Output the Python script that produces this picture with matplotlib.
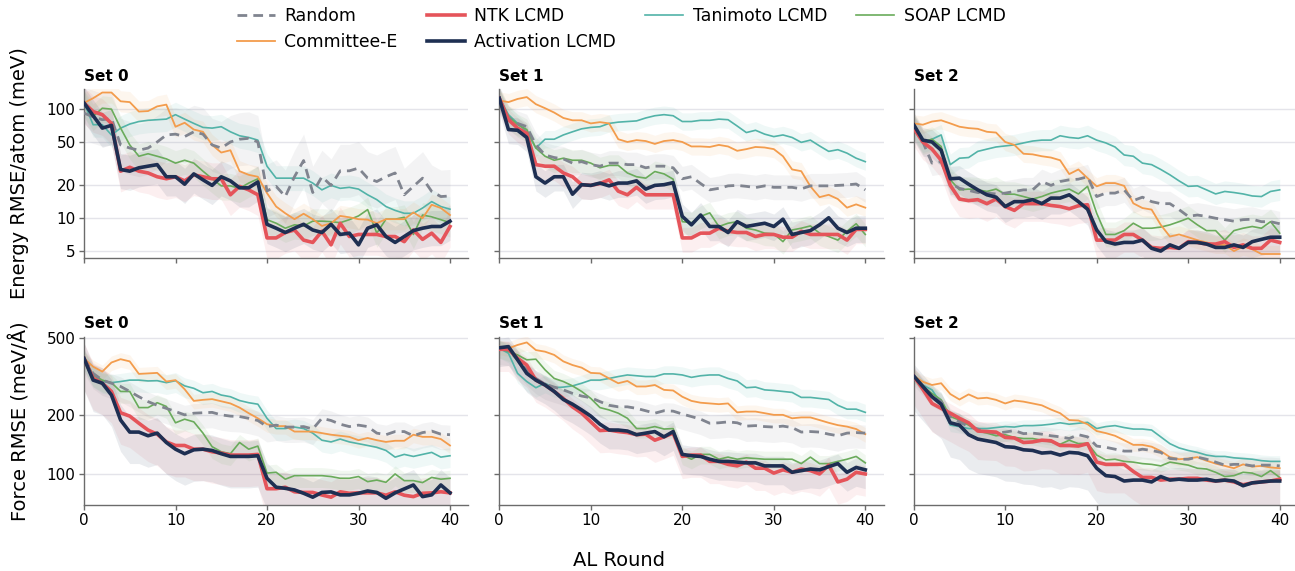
import numpy as np
import matplotlib
matplotlib.use("Agg")
import matplotlib.pyplot as plt
from matplotlib.lines import Line2D

rounds = list(range(41))
methods = ["Random", "Committee-E", "NTK LCMD", "Activation LCMD", "Tanimoto LCMD", "SOAP LCMD"]
set_titles = ["Set 0", "Set 1", "Set 2"]

# ---------------- Energy RMSE/atom (meV) ----------------
E0_random = [92, 85, 80, 82, 47, 44, 42, 44, 50, 58, 59, 56, 62, 59, 47, 44, 50, 53, 54, 50, 17.8, 19.6, 15.8, 24, 33.8, 17.2, 24, 20, 27.2, 27.2, 28.8, 23.3, 21.7, 24, 26, 16.4, 19.6, 23.3, 17.6, 15.8, 16]
E0_committee = [114, 126, 142, 142, 118, 116, 95, 96, 106, 110, 69, 75, 65, 62, 47, 40, 42, 27, 25, 24, 17, 12.8, 11.1, 9.8, 11, 9.8, 8.5, 9, 10.5, 10.2, 9.8, 9.7, 9, 9.8, 9.8, 9.8, 11.3, 10, 13.3, 12.4, 10.7]
E0_ntk = [114, 95, 89, 74, 27, 29.3, 27, 26, 24, 23, 24, 22, 25, 24, 23, 23, 16.4, 19.6, 18.2, 16.4, 6.6, 6.6, 7.4, 7.8, 6.3, 6.0, 7.6, 5.7, 9, 6.8, 7.1, 7.1, 7.1, 6.8, 6.8, 6.1, 7.8, 6.4, 7.3, 6.0, 8.4]
E0_activation = [114, 87, 67, 71, 28, 27, 29, 30, 31, 24, 24, 20.5, 25.5, 22.5, 20, 24, 22, 19, 19, 21.5, 8.8, 8.1, 7.4, 8.1, 8.8, 7.8, 7.4, 8.8, 7.1, 7.3, 5.7, 8.1, 8.7, 6.8, 6.0, 6.8, 7.7, 8.1, 8.4, 8.4, 9.4]
E0_tanimoto = [114, 72, 72, 58, 67, 73, 77, 79, 80, 81, 89, 81, 74, 68, 67, 69, 62, 57, 55, 52, 30, 23.3, 23.3, 23.3, 23.3, 21, 18.2, 20, 18.8, 19.2, 18.5, 16.4, 14.8, 12.8, 11.8, 11.1, 11.1, 12.4, 14.2, 12.8, 12.1]
E0_soap = [114, 86, 102, 100, 67, 47, 37, 39, 37, 35, 32, 34, 32, 27, 23, 19.8, 19.8, 18.8, 21, 23, 9.7, 9, 8.1, 8.7, 8.5, 9.4, 9.4, 9.3, 9.1, 9.7, 10.5, 12, 7.3, 9.8, 9.8, 10.2, 7.1, 10.7, 10.3, 9.7, 9.1]

E1_random = [126, 83, 74, 69, 47, 38, 36, 35, 32, 33, 31, 30, 32, 32, 31, 31, 29, 30, 30, 29, 23, 24, 20.8, 18.2, 18.8, 19.8, 20, 19.6, 19.1, 19.8, 19.2, 19.2, 19.2, 18.6, 19.8, 19.8, 19.8, 20, 20.2, 20.6, 18.2]
E1_committee = [120, 116, 124, 129, 111, 102, 93, 83, 79, 79, 74, 76, 74, 53, 50, 52, 51, 48, 51, 52, 50, 45.5, 45.5, 45, 47, 45.5, 41.5, 43, 45, 44.5, 43, 37, 28, 27, 19.6, 15.6, 16.4, 15, 12.5, 13.4, 12.5]
E1_ntk = [126, 80, 67, 60, 31, 30, 30, 26, 24, 20.3, 20, 20.8, 22.5, 17.7, 16.4, 19.2, 16.4, 16.4, 16.4, 16.4, 6.6, 6.6, 7.3, 7.3, 8.1, 7.6, 7.4, 7.4, 6.8, 7.1, 7.1, 6.7, 6.7, 7.6, 7.1, 7.1, 7.1, 7.1, 6.3, 7.9, 7.9]
E1_activation = [126, 65, 64, 55, 24, 21, 24, 24, 16.6, 20.3, 20, 21, 19.8, 21, 21, 22, 18.5, 20, 20.3, 21.2, 10.4, 8.7, 10.7, 8.4, 8.4, 7.4, 9.3, 8.4, 8.7, 9.0, 8.4, 9.8, 7.1, 7.4, 7.7, 8.7, 10.1, 8.1, 7.4, 8.1, 8.1]
E1_tanimoto = [126, 89, 74, 62, 44, 53, 53, 58, 62, 66, 68, 69, 74, 76, 77, 78, 83, 87, 89, 87, 77, 77, 79, 79, 81, 80, 70, 61, 64, 59, 56, 58, 55, 49.6, 52, 46, 41, 42.5, 39.5, 35.5, 33]
E1_soap = [126, 86, 72, 65, 44, 37, 34, 35.5, 34, 34, 32, 29, 30.5, 30.5, 26, 24, 23.3, 26.8, 25.5, 22.8, 9.3, 9.1, 10.4, 11.2, 8.4, 9, 9.3, 8.1, 7.8, 7.3, 7.2, 6.1, 7.8, 8.1, 8.5, 7.3, 6.8, 6.3, 7.6, 8.9, 7.1]

E2_random = [69, 50, 32, 33, 21, 18.8, 18, 17.2, 17, 16.7, 17, 17.6, 18.2, 18.2, 21.7, 20, 21.7, 22.5, 22.8, 24, 15.8, 17, 17, 18.2, 14.5, 15.6, 14.2, 13.6, 13.6, 12, 10.4, 10.7, 10.4, 10, 9.7, 9.4, 9.7, 9.8, 9.3, 9.3, 8.9]
E2_committee = [74, 72, 77, 79, 74, 69, 67, 66, 62, 61, 50, 47, 39, 38.5, 37, 36, 34, 25.4, 28, 23.3, 19.6, 21, 21, 19.8, 13.7, 12.4, 12, 8.7, 6.8, 7.1, 6.7, 6.3, 6.0, 5.7, 5.7, 5.0, 5.5, 5.2, 4.7, 4.7, 4.7]
E2_ntk = [67, 50, 43, 34, 20, 15, 14.5, 14.8, 13.6, 15, 12.8, 11.8, 13.6, 13.6, 13.6, 13.1, 12.8, 12.2, 13, 13.3, 6.3, 6.3, 6.3, 7.1, 7.1, 6.3, 5.4, 5.3, 5.4, 5.3, 6.1, 6.0, 5.8, 5.8, 6.1, 5.4, 5.7, 5.3, 5.3, 6.3, 6.0]
E2_activation = [72, 52, 50, 42, 23, 23.3, 20.5, 18.2, 16.4, 15.6, 12.8, 14.2, 14.2, 14.8, 13.6, 15.3, 15.3, 16.4, 14.2, 12.1, 7.8, 6.1, 5.8, 6.0, 6.0, 6.3, 5.3, 5.0, 5.7, 5.3, 6.0, 6.0, 5.8, 5.4, 5.4, 5.7, 5.4, 6.1, 6.4, 6.7, 6.7]
E2_tanimoto = [69, 50, 53, 58, 31, 35.5, 36, 41, 43, 45, 46, 47, 49, 51, 52, 52, 57, 55, 54, 57, 52, 49, 45, 38, 37, 32, 31, 28, 25, 22, 19.6, 19.8, 18.2, 16.7, 17.6, 17.2, 16.7, 16, 15.8, 17.6, 18.2]
E2_soap = [69, 50, 53, 45.5, 22.5, 18.2, 18.5, 18.2, 17.6, 18.5, 16.6, 16.6, 15.8, 15, 15.8, 17, 17.8, 18.5, 16.7, 19.6, 11.1, 7.1, 7.1, 7.7, 9, 8.1, 8.1, 8.3, 8.7, 9.3, 10, 8.7, 7.7, 7.7, 6.3, 7.7, 8.1, 8.4, 8.1, 9.3, 7.3]

# ---------------- Force RMSE (meV/Å) ----------------
F0_random = [392, 328, 303, 292, 281, 265, 249, 235, 225, 217, 209, 201, 205, 206, 207, 201, 198, 197, 193, 188, 175, 178, 174, 174, 175, 170, 193, 188, 180, 175, 178, 175, 162, 159, 165, 165, 157, 163, 166, 160, 159]
F0_committee = [392, 355, 335, 373, 388, 378, 326, 328, 330, 298, 303, 272, 237, 240, 242, 236, 230, 219, 205, 193, 180, 176, 176, 165, 165, 165, 162, 159, 157, 155, 149, 153, 149, 146, 148, 148, 159, 155, 155, 151, 140]
F0_ntk = [392, 310, 292, 265, 206, 198, 182, 168, 160, 146, 140, 140, 134, 134, 130, 128, 125, 125, 125, 126, 84, 84, 85.5, 81, 80.4, 80.4, 78, 76, 81, 79.6, 80, 80, 80, 77.8, 81, 77.8, 76.5, 79.6, 80, 81, 80]
F0_activation = [392, 303, 292, 254, 189, 164, 164, 157, 162, 145, 134, 127, 133, 134, 132, 127, 123, 123, 123, 124, 95, 85.5, 84.4, 82.8, 79.6, 76, 80.4, 80.9, 78.1, 78.1, 79.6, 81.8, 80.4, 75, 80, 83.8, 87.8, 76.5, 78.1, 87.8, 80]
F0_tanimoto = [392, 322, 298, 294, 298, 303, 303, 300, 301, 294, 301, 283, 275, 261, 265, 254, 249, 238, 232, 228, 193, 171, 171, 174, 171, 162, 149, 146, 151, 146, 143, 140, 137, 132, 122, 126, 123, 126, 129, 122, 124]
F0_soap = [392, 322, 303, 294, 265, 265, 219, 219, 232, 222, 183, 191, 185, 162, 138, 130, 127, 145, 134, 139, 101, 102, 94, 98, 98, 98, 98, 97, 95, 95, 97, 91.3, 93, 90.6, 100, 92.4, 92.4, 90.3, 96, 94, 95]

F1_random = [436, 432, 385, 342, 309, 289, 279, 270, 259, 251, 246, 235, 225, 221, 221, 217, 211, 205, 211, 210, 203, 197, 191, 182, 183, 185, 183, 176, 177, 175, 174, 176, 173, 164, 165, 164, 160, 157, 162, 163, 162]
F1_committee = [450, 441, 459, 473, 432, 424, 408, 378, 362, 351, 330, 328, 309, 292, 300, 281, 281, 286, 270, 268, 249, 237, 232, 230, 228, 230, 207, 209, 209, 205, 201, 201, 193, 195, 195, 189, 183, 178, 175, 170, 160]
F1_ntk = [436, 436, 392, 362, 303, 286, 265, 244, 221, 205, 185, 167, 168, 165, 163, 159, 160, 149, 155, 162, 123, 125, 125, 116, 116, 112, 110, 115, 107, 107, 101, 105, 102, 106, 104, 100, 111, 91, 94, 102, 100]
F1_activation = [444, 450, 385, 328, 303, 286, 265, 241, 228, 213, 198, 180, 168, 168, 166, 159, 162, 165, 155, 165, 126, 124, 123, 119, 116, 116, 115, 114, 114, 110, 110, 110, 102, 104, 106, 105, 109, 113, 102, 108, 105]
F1_tanimoto = [441, 416, 328, 298, 277, 292, 277, 279, 283, 292, 303, 303, 309, 316, 322, 319, 316, 316, 326, 326, 322, 313, 319, 322, 322, 309, 300, 277, 279, 270, 268, 265, 262, 247, 247, 244, 241, 225, 215, 215, 207]
F1_soap = [441, 424, 408, 385, 388, 342, 309, 298, 283, 265, 244, 219, 213, 205, 193, 171, 171, 175, 170, 171, 125, 119, 126, 126, 119, 122, 119, 121, 120, 119, 119, 119, 119, 113, 122, 113, 113, 116, 119, 123, 114]

F2_random = [318, 283, 249, 235, 197, 185, 175, 170, 165, 162, 164, 167, 161, 162, 160, 157, 155, 152, 159, 155, 139, 137, 134, 131, 131, 134, 132, 129, 120, 119, 119, 122, 119, 115, 111, 112, 112, 110, 111, 111, 110]
F2_committee = [318, 297, 286, 292, 257, 241, 256, 244, 246, 240, 230, 238, 235, 230, 225, 214, 205, 189, 188, 180, 166, 162, 157, 149, 141, 141, 138, 131, 122, 119, 120, 122, 117, 113, 110, 107, 112, 109, 110, 108, 107]
F2_ntk = [318, 272, 230, 217, 205, 193, 183, 166, 165, 164, 154, 153, 145, 146, 149, 148, 140, 140, 139, 143, 115, 112, 112, 112, 103, 96, 96, 93, 94, 94, 95, 95, 93, 92, 93, 91, 88, 90, 91, 92, 94]
F2_activation = [318, 281, 249, 228, 183, 178, 159, 151, 148, 145, 138, 137, 133, 132, 128, 129, 125, 129, 128, 124, 107, 98, 97, 92, 93, 93, 91, 97, 93, 94, 93, 93, 94, 92, 93, 92, 87, 90, 91, 92, 92]
F2_tanimoto = [318, 286, 270, 230, 178, 175, 171, 171, 171, 173, 175, 174, 177, 177, 178, 180, 183, 180, 182, 184, 171, 175, 177, 173, 170, 170, 168, 155, 143, 136, 132, 129, 125, 123, 123, 121, 120, 119, 117, 116, 116]
F2_soap = [318, 281, 259, 240, 197, 189, 178, 166, 162, 157, 159, 154, 152, 152, 149, 146, 142, 149, 143, 144, 125, 118, 119, 116, 115, 113, 112, 110, 115, 113, 111, 107, 106, 102, 97, 98, 102, 101, 97, 104, 96]

# shaded band as multiplicative factors below / above the mean
# order: random, committee, ntk, activation, tanimoto, soap
E0_lo = [1.75, 1.25, 1.55, 1.5, 1.3, 1.35]
E0_hi = [1.75, 1.25, 1.4, 1.4, 1.3, 1.3]
E1_lo = [1.3, 1.2, 1.35, 1.35, 1.2, 1.3]
E1_hi = [1.3, 1.2, 1.25, 1.3, 1.2, 1.25]
E2_lo = [1.3, 1.2, 1.45, 1.4, 1.25, 1.3]
E2_hi = [1.3, 1.2, 1.3, 1.3, 1.25, 1.3]
F0_lo = [1.2, 1.1, 1.45, 1.45, 1.15, 1.15]
F0_hi = [1.12, 1.08, 1.2, 1.2, 1.1, 1.1]
F1_lo = [1.2, 1.1, 1.3, 1.25, 1.12, 1.12]
F1_hi = [1.1, 1.08, 1.1, 1.12, 1.1, 1.1]
F2_lo = [1.12, 1.08, 1.4, 1.5, 1.08, 1.08]
F2_hi = [1.1, 1.08, 1.12, 1.15, 1.07, 1.08]

energy_sets = [
    [E0_random, E0_committee, E0_ntk, E0_activation, E0_tanimoto, E0_soap],
    [E1_random, E1_committee, E1_ntk, E1_activation, E1_tanimoto, E1_soap],
    [E2_random, E2_committee, E2_ntk, E2_activation, E2_tanimoto, E2_soap],
]
force_sets = [
    [F0_random, F0_committee, F0_ntk, F0_activation, F0_tanimoto, F0_soap],
    [F1_random, F1_committee, F1_ntk, F1_activation, F1_tanimoto, F1_soap],
    [F2_random, F2_committee, F2_ntk, F2_activation, F2_tanimoto, F2_soap],
]
energy_bands = [(E0_lo, E0_hi), (E1_lo, E1_hi), (E2_lo, E2_hi)]
force_bands = [(F0_lo, F0_hi), (F1_lo, F1_hi), (F2_lo, F2_hi)]

energy_ticks = [5, 10, 20, 50, 100]
force_ticks = [100, 200, 500]

# ---------------- styles ----------------
colors = ["#80848f", "#f39c4c", "#e5545a", "#1e2f52", "#52b3a8", "#6aab5b"]
lws = [2.0, 1.3, 2.6, 2.6, 1.2, 1.2]
lss = [(0, (3.5, 2.2)), "-", "-", "-", "-", "-"]
zorders = [5, 4, 6, 7, 3, 3]

plt.rcParams["font.family"] = ["DejaVu Sans"]

W, H = 1295, 571
fig = plt.figure(figsize=(W / 100, H / 100), dpi=100)

col_x = [84, 499.3, 913.7]
ax_w = 384.3
rows = [(89.3, 258.0), (336.7, 505.0)]

def add_ax(x0, y_top, y_bot):
    return fig.add_axes([x0 / W, 1 - y_bot / H, ax_w / W, (y_bot - y_top) / H])

x = np.array(rounds)
for r, (data_sets, bands, ticks, ylim) in enumerate([
    (energy_sets, energy_bands, energy_ticks, (4.32, 152)),
    (force_sets, force_bands, force_ticks, (69.3, 506)),
]):
    for c in range(3):
        ax = add_ax(col_x[c], rows[r][0], rows[r][1])
        lo, hi = bands[c]
        for k in range(6):
            y = np.array(data_sets[c][k], dtype=float)
            ax.fill_between(x, y / lo[k], y * hi[k], color=colors[k], alpha=0.09, lw=0, zorder=1)
        for k in range(6):
            y = np.array(data_sets[c][k], dtype=float)
            ax.plot(x, y, color=colors[k], lw=lws[k], ls=lss[k], zorder=zorders[k])
        ax.set_yscale("log")
        ax.set_ylim(*ylim)
        ax.set_xlim(0, 42)
        ax.set_yticks(ticks)
        ax.yaxis.set_minor_locator(matplotlib.ticker.NullLocator())
        ax.set_xticks([0, 10, 20, 30, 40])
        if c == 0:
            ax.set_yticklabels([str(t) for t in ticks])
        else:
            ax.set_yticklabels([])
        if r == 0:
            ax.set_xticklabels([])
        ax.grid(axis="y", color="#e4e4ea", lw=1.0, zorder=0)
        ax.set_axisbelow(True)
        for sp in ["top", "right"]:
            ax.spines[sp].set_visible(False)
        for sp in ["left", "bottom"]:
            ax.spines[sp].set_color("#6b6b6b")
            ax.spines[sp].set_linewidth(1.0)
        ax.tick_params(axis="both", which="major", labelsize=11, length=3.5, width=1.0,
                       color="#6b6b6b", pad=2.5)
        ax.set_title(set_titles[c], loc="left", fontsize=11, fontweight="bold", pad=6)

fig.text(20 / W, 1 - 173.5 / H, "Energy RMSE/atom (meV)", rotation=90, ha="center", va="center", fontsize=14)
fig.text(20 / W, 1 - 421 / H, "Force RMSE (meV/Å)", rotation=90, ha="center", va="center", fontsize=14)
fig.text(619 / W, 1 - 560 / H, "AL Round", ha="center", va="center", fontsize=14)

handles = [Line2D([0], [0], color=colors[k], lw=lws[k], ls=lss[k]) for k in range(6)]
fig.legend(handles, methods, loc="upper left", ncol=4,
           bbox_to_anchor=(230 / W, 1.0), frameon=False, fontsize=12.4,
           columnspacing=1.7, handlelength=2.2, handletextpad=0.55, borderaxespad=0.0,
           labelspacing=0.45)

fig.savefig("out.png", dpi=100)
